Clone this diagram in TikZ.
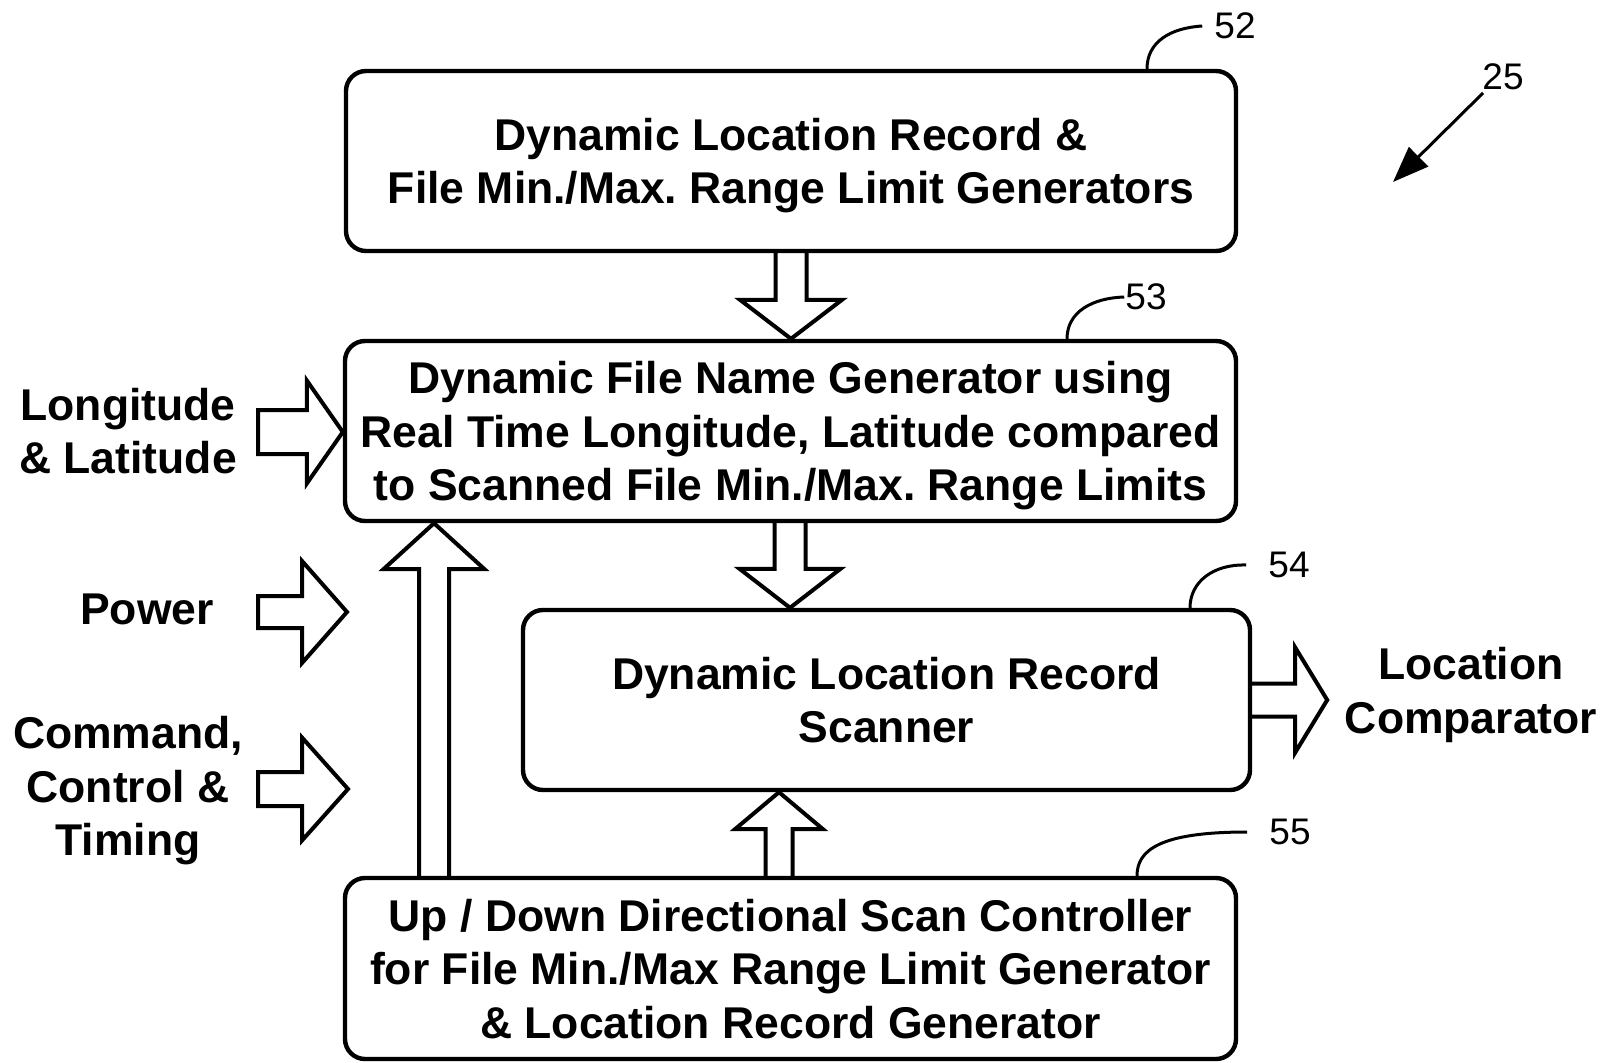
\documentclass[tikz,border=0pt]{standalone}
\usepackage{fontspec}
\setmainfont{Liberation Sans}
\usetikzlibrary{calc,arrows.meta}
\frenchspacing
\tikzset{
  box/.style={draw, line width=4.4pt, rounded corners=20pt, align=center,
    font=\bfseries\fontsize{44.5}{53.5}\selectfont, inner sep=0pt, text depth=0pt},
  lbl/.style={align=center, font=\bfseries\fontsize{44.5}{53.5}\selectfont, inner sep=0pt},
  num/.style={font=\fontsize{37}{40}\selectfont, inner sep=0pt},
  blk/.style={draw, line width=4pt, line join=miter, miter limit=20},
  lead/.style={draw, line width=3pt},
}
% #1 closing (empty or -- cycle), #2 start, #3 tip, #4 shaft half, #5 head half, #6 head length
\newcommand\blockarrow[6]{%
  \path ($(#3)!#6!(#2)$) coordinate (hb);
  \draw[blk] ($(#2)!#4!90:(#3)$) -- ($(hb)!#4!90:(#3)$) -- ($(hb)!#5!90:(#3)$)
    -- (#3) -- ($(hb)!#5!-90:(#3)$) -- ($(hb)!#4!-90:(#3)$) -- ($(#2)!#4!-90:(#3)$) #1;
}
\begin{document}
\begin{tikzpicture}[x=1pt,y=-1pt]
\useasboundingbox (0,0) rectangle (1605,1062);

% boxes
\node[box, minimum width=890pt, minimum height=180pt] (b52) at (791,161)
  {Dynamic Location Record \&\\File Min./Max. Range Limit Generators};
\node[box, minimum width=891pt, minimum height=180pt] (b53) at (790.5,431)
  {Dynamic File Name Generator using\\Real Time Longitude, Latitude compared\\to Scanned File Min./Max. Range Limits};
\node[box, minimum width=727pt, minimum height=180pt] (b54) at (886.5,700)
  {Dynamic Location Record\\Scanner};
\node[box, minimum width=891pt, minimum height=181pt] (b55) at (790.5,968.5)
  {Up / Down Directional Scan Controller\\for File Min./Max Range Limit Generator\\\& Location Record Generator};

% side labels
\node[lbl] (lon) at (128,431) {Longitude\\\& Latitude};
\node[lbl] (pow) at (147,609) {Power};
\node[lbl] (cmd) at (128,791) {Command,\\Control \&\\Timing};
\node[lbl] (loc) at (1471,695) {Location\\Comparator};

% reference numbers
\node[num] (n52) at (1235,26) {52};
\node[num] (n53) at (1146,297) {53};
\node[num] (n54) at (1289,565) {54};
\node[num] (n55) at (1290,832) {55};
\node[num] (n25) at (1503,77) {25};

% helper coordinates
\coordinate (x1) at (791,0);
\coordinate (x2) at (790,0);
\coordinate (x3) at (779,0);
\coordinate (x4) at (434,0);
\path (b52.south -| x1) coordinate (a1s) (b53.north -| x1) coordinate (a1t);
\path (b53.south -| x2) coordinate (a2s) (b54.north -| x2) coordinate (a2t);
\path (b55.north -| x3) coordinate (a3s) (b54.south -| x3) coordinate (a3t);
\path (b55.north -| x4) coordinate (a4s) (b53.south -| x4) coordinate (a4t);
\coordinate (a5s) at (258,432);
\path (b53.west |- a5s) coordinate (a5t);
\coordinate (a6s) at (258,612);
\coordinate (a6t) at (347,612);
\coordinate (a7s) at (258,789);
\coordinate (a7t) at (348,789);
\path (b54.east) coordinate (a8s) ++(75,0) coordinate (a8t);

% block arrows
\blockarrow{}{a1s}{a1t}{15.5pt}{51pt}{39pt}
\blockarrow{}{a2s}{a2t}{15.5pt}{50.5pt}{39pt}
\blockarrow{}{a3s}{a3t}{13.5pt}{44pt}{37pt}
\blockarrow{}{a4s}{a4t}{15pt}{50.5pt}{46pt}
\blockarrow{-- cycle}{a5s}{a5t}{22pt}{51.5pt}{36pt}
\blockarrow{-- cycle}{a6s}{a6t}{16pt}{51pt}{45pt}
\blockarrow{-- cycle}{a7s}{a7t}{17pt}{51.5pt}{46pt}
\blockarrow{}{a8s}{a8t}{16.5pt}{52.5pt}{32pt}

% lead lines
\coordinate (c52) at (1147,0);
\coordinate (c53) at (1067,0);
\coordinate (c54) at (1190,0);
\coordinate (c55) at (1137,0);
\draw[lead] (b52.north -| c52) .. controls (1147,42) and (1170,28) .. ([xshift=-12pt]n52.west);
\draw[lead] (b53.north -| c53) .. controls (1067,312) and (1092,298) .. ([xshift=-1pt]n53.west);
\draw[lead] (b54.north -| c54) .. controls (1190,582) and (1213,564) .. ([xshift=-22pt]n54.west);
\draw[lead] (b55.north -| c55) .. controls (1137,850) and (1160,832) .. ([xshift=-22pt]n55.west);

% figure arrow 25
\coordinate (f25) at (1393,182);
\draw[line width=3pt, -{Triangle[length=36pt,width=27pt]}] ([shift={(-20pt,-16pt)}]n25.center) -- (f25);
\end{tikzpicture}
\end{document}
